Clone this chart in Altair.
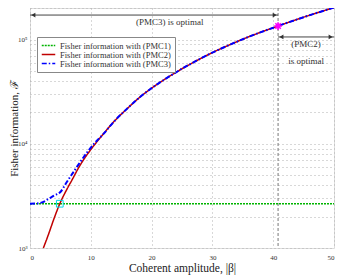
import altair as alt
import pandas as pd

# ---- data ----
s1 = "Fisher information with (PMC1)"
s2 = "Fisher information with (PMC2)"
s3 = "Fisher information with (PMC3)"

beta_pmc1 = [0, 50]
F_pmc1 = [2660, 2660]

beta_pmc2 = [2.2, 3, 4, 4.9, 6, 7, 8, 9, 10, 12, 14, 16, 18, 20, 22, 25, 28, 30, 33, 36, 40.8, 45, 50]
F_pmc2 = [1000, 1330, 1950, 2660, 3600, 4600, 5900, 7300, 8800, 12300, 16800, 21800, 27800,
          34200, 41000, 52500, 65500, 75000, 90000, 106500, 135000, 164000, 203000]

beta_pmc3 = [0, 1, 1.5, 2, 2.5, 3, 3.5, 4, 5, 6, 7, 8, 9, 10, 11, 12, 14, 16, 18, 20, 22, 25, 28,
             30, 33, 36, 40.8, 45, 50]
F_pmc3 = [2660, 2670, 2690, 2740, 2830, 2950, 3070, 3200, 3450, 4250, 5200, 6350, 7700, 9200,
          10700, 12300, 16800, 21800, 27800, 34200, 41000, 52500, 65500, 75000, 90000, 106500,
          135000, 164000, 203000]

x_ticks = [0, 10, 20, 30, 40, 50]
y_grid = [1000, 2000, 3000, 4000, 5000, 6000, 7000, 8000, 9000,
          10000, 20000, 30000, 40000, 50000, 60000, 70000, 80000, 90000,
          100000, 200000]

switch_beta = 40.8
switch_F = 135000
cross_beta = 4.9
cross_F = 2660

arrow_top_F = 172000
arrow_mid_F = 106000

FONT = "Liberation Serif"

rows = []
for b, f in zip(beta_pmc1, F_pmc1):
    rows.append({"beta": b, "F": f, "series": s1})
for b, f in zip(beta_pmc2, F_pmc2):
    rows.append({"beta": b, "F": f, "series": s2})
for b, f in zip(beta_pmc3, F_pmc3):
    rows.append({"beta": b, "F": f, "series": s3})
df = pd.DataFrame(rows)

X = alt.X("beta:Q",
          scale=alt.Scale(domain=[0, 50], nice=False, zero=False),
          axis=alt.Axis(values=x_ticks, title="Coherent amplitude, |β|", grid=True,
                        gridColor="#b0b0b0", gridDash=[1, 3], ticks=False,
                        domain=False, labelFont=FONT, labelFontSize=7, labelPadding=5,
                        titleFont=FONT, titleFontSize=11.5, titleFontWeight="normal",
                        titlePadding=2, labelColor="#333", titleColor="#222"))
Y = alt.Y("F:Q",
          scale=alt.Scale(type="log", domain=[1000, 201000], nice=False),
          axis=alt.Axis(values=y_grid, title="Fisher information, ℱ", grid=True,
                        gridColor="#b0b0b0", gridDash=[1, 3], ticks=False, domain=False,
                        labelExpr="datum.value==1000?'10³':datum.value==10000?'10⁴':datum.value==100000?'10⁵':''",
                        labelFont=FONT, labelFontSize=7, labelPadding=3,
                        titleFont=FONT, titleFontSize=11, titleFontWeight="normal",
                        titlePadding=-2, labelColor="#333", titleColor="#222"))

leg = alt.Legend(title=None, orient="none", legendX=7, legendY=29,
                 fillColor="white", strokeColor="#888", padding=4,
                 labelFont=FONT, labelFontSize=8.5, labelColor="#333",
                 symbolType="M-1.5,0L1.5,0", symbolSize=81, symbolStrokeWidth=1.5,
                 symbolOffset=2, rowPadding=0, labelOffset=6, cornerRadius=0,
                 clipHeight=9)

color = alt.Color("series:N",
                  scale=alt.Scale(domain=[s1, s2, s3], range=["#00b400", "#c00000", "#0000ff"]),
                  legend=leg)
dash = alt.StrokeDash("series:N",
                      scale=alt.Scale(domain=[s1, s2, s3], range=[[2, 1], [1, 0], [5, 2, 1.5, 2]]),
                      legend=leg)

base = alt.Chart(df)
l1 = base.transform_filter(alt.datum.series == s1).mark_line(strokeWidth=1.5).encode(
    x=X, y=Y, color=color, strokeDash=dash)
l2 = base.transform_filter(alt.datum.series == s2).mark_line(strokeWidth=1.5, interpolate="monotone").encode(
    x=X, y=Y, color=color, strokeDash=dash)
l3 = base.transform_filter(alt.datum.series == s3).mark_line(strokeWidth=2, interpolate="monotone").encode(
    x=X, y=Y, color=color, strokeDash=dash)

vline = alt.Chart(pd.DataFrame({"beta": [switch_beta]})).mark_rule(
    color="#777", strokeDash=[3, 2], strokeWidth=1).encode(x=X)

arrows = pd.DataFrame({
    "beta": [0, switch_beta],
    "beta2": [switch_beta, 50],
    "F": [arrow_top_F, arrow_mid_F],
})
arrow_lines = alt.Chart(arrows).mark_rule(color="#444", strokeWidth=1).encode(
    x=X, x2="beta2:Q", y=Y)

heads = pd.DataFrame({
    "beta": [0.55, 40.25, 41.35, 49.45],
    "F": [arrow_top_F, arrow_top_F, arrow_mid_F, arrow_mid_F],
    "shape": ["triangle-left", "triangle-right", "triangle-left", "triangle-right"],
})
arrow_heads = alt.Chart(heads).mark_point(filled=True, color="#333", size=22, opacity=1).encode(
    x=X, y=Y, shape=alt.Shape("shape:N", scale=None, legend=None))

labels = pd.DataFrame({
    "beta": [23, 45.4, 45.4],
    "F": [146000, 90000, 62000],
    "text": ["(PMC3) is optimal", "(PMC2)", "is optimal"],
})
text = alt.Chart(labels).mark_text(font=FONT, fontSize=9, color="#333").encode(
    x=X, y=Y, text="text:N")

star = alt.Chart(pd.DataFrame({"beta": [switch_beta], "F": [switch_F]})).mark_point(
    shape="M-1,0L1,0M0,-1L0,1M-0.7,-0.7L0.7,0.7M-0.7,0.7L0.7,-0.7",
    color="#ff00ff", size=60, strokeWidth=1.6, opacity=1).encode(x=X, y=Y)

square = alt.Chart(pd.DataFrame({"beta": [cross_beta], "F": [cross_F]})).mark_point(
    shape="square", color="#00d8e8", size=45, strokeWidth=1, opacity=1).encode(x=X, y=Y)

chart = alt.layer(vline, l1, l2, l3, arrow_lines, arrow_heads, text, square, star).properties(
    width=304, height=240,
    autosize=alt.AutoSizeParams(type="none"),
    padding={"left": 22, "top": 0, "right": 8, "bottom": 29},
).configure_view(stroke="#888", strokeWidth=1).configure(background="white")

chart.save("out.html", embed_options={"renderer": "svg", "actions": False})
